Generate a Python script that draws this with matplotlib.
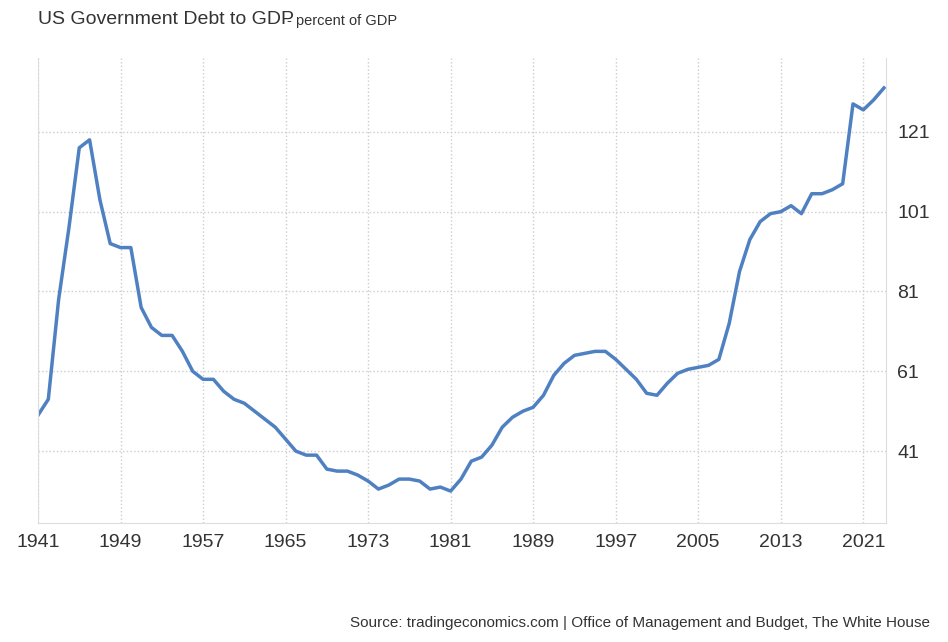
import matplotlib.pyplot as plt
import numpy as np

plt.rcParams['font.family'] = ['Liberation Sans', 'DejaVu Sans']

years = list(range(1941, 2024))
debt = [50, 54, 79, 97, 117, 119, 104, 93, 92, 92,
        77, 72, 70, 70, 66, 61, 59, 59, 56, 54,
        53, 51, 49, 47, 44, 41, 40, 40, 36.5, 36,
        36, 35, 33.5, 31.5, 32.5, 34, 34, 33.5, 31.5, 32,
        31, 34, 38.5, 39.5, 42.5, 47, 49.5, 51, 52, 55,
        60, 63, 65, 65.5, 66, 66, 64, 61.5, 59, 55.5,
        55, 58, 60.5, 61.5, 62, 62.5, 64, 73, 86, 94,
        98.5, 100.5, 101, 102.5, 100.5, 105.5, 105.5, 106.5, 108, 128,
        126.5, 129, 132]
xticks = list(range(1941, 2022, 8))
yticks = [41, 61, 81, 101, 121]

fig = plt.figure(figsize=(9.48, 6.42), dpi=100)
ax = fig.add_axes([38/948, 1-523/642, (886-38)/948, (523-58)/642])
ax.plot(years, debt, color="#4f81c2", lw=2.5, solid_joinstyle="round")
ax.set_xlim(1941, 2023.2)
ax.set_ylim(23, 139.5)
ax.set_xticks(xticks)
ax.set_yticks(yticks)
ax.yaxis.tick_right()
ax.tick_params(length=0, labelsize=14, colors="#333333", pad=8)
ax.grid(True, color="#cccccc", linestyle=":", lw=1)
for s in ["top"]:
    ax.spines[s].set_visible(False)
for s in ["left", "right", "bottom"]:
    ax.spines[s].set_color("#dddddd")

fig.text(38/948, 1-20/642, "US Government Debt to GDP", fontsize=14, color="#333333", va="center")
fig.text(287/948, 1-21/642, "- percent of GDP", fontsize=10.5, color="#333333", va="center")
fig.text(930/948, 1-623/642, "Source: tradingeconomics.com | Office of Management and Budget, The White House",
         fontsize=11, color="#333333", ha="right", va="center")
fig.savefig("out.png", dpi=100)
